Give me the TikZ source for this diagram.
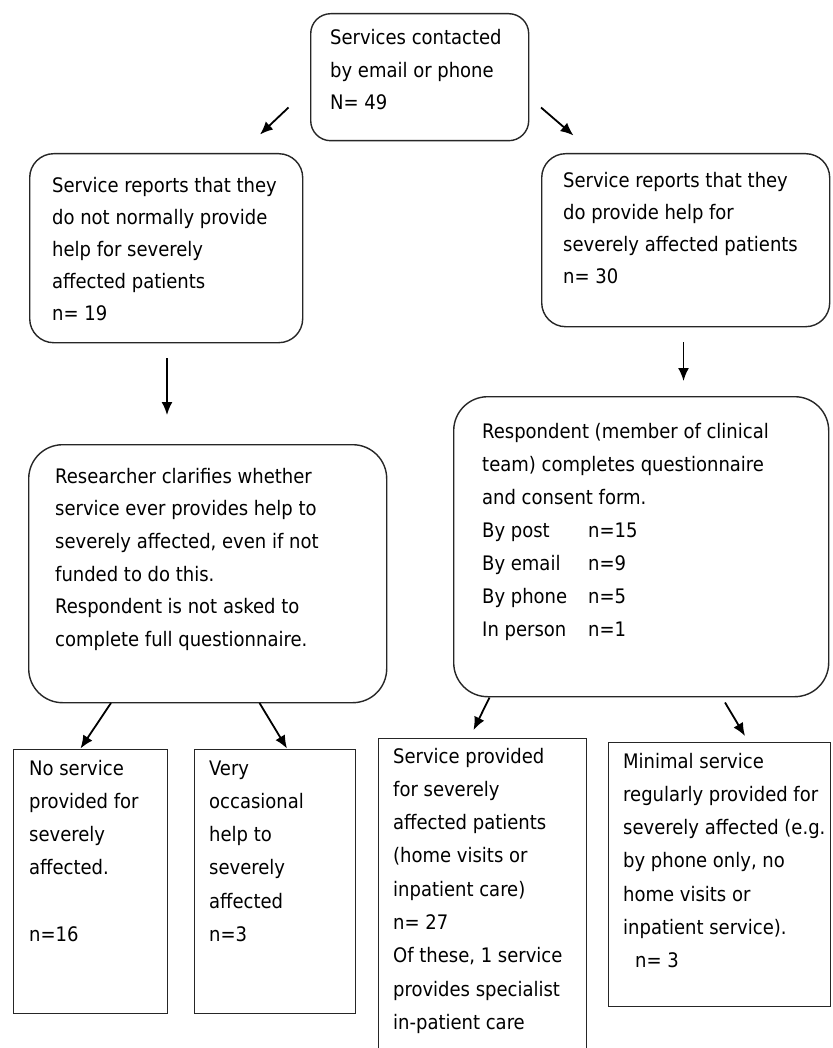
\documentclass[tikz,border=0pt]{standalone}
\usepackage{fontspec}
\setmainfont{DejaVu Sans Condensed}
\usetikzlibrary{arrows.meta}
\newcommand{\ml}[1]{\begin{tabular}[t]{@{}l@{}}#1\end{tabular}}
\newcommand{\col}[1]{\makebox[106pt][l]{#1}}
\begin{document}
\begin{tikzpicture}[x=1pt,y=-1pt,
  box/.style={draw=black!85, line width=1.4pt, inner sep=0pt, anchor=north west},
  rbox/.style={box, rounded corners=#1},
  txt/.style={anchor=base west, inner sep=0pt, font=\fontsize{20}{#1}\selectfont},
  txt/.default=33.3,
  arr/.style={line width=1.8pt, -{Latex[length=13pt,width=11pt]}}]
\useasboundingbox (0,0) rectangle (832,1048);
\clip (0,0) rectangle (832,1048);
\fill[white] (0,0) rectangle (832,1048);

% boxes
\node[rbox=20pt, minimum width=218pt, minimum height=127pt] (A) at (310,13) {};
\node[rbox=24pt, minimum width=273pt, minimum height=189pt] (B) at (29,153) {};
\node[rbox=24pt, minimum width=288pt, minimum height=173pt] (C) at (541,153) {};
\node[rbox=34pt, minimum width=358pt, minimum height=258pt] (D) at (28,444) {};
\node[rbox=34pt, minimum width=375pt, minimum height=300pt] (E) at (453,396) {};
\node[box, minimum width=154pt, minimum height=264pt] (F) at (13,749) {};
\node[box, minimum width=161pt, minimum height=264pt] (G) at (194,749) {};
\node[box, minimum width=208pt, minimum height=330pt] (H) at (378,738) {};
\node[box, minimum width=222pt, minimum height=264pt] (I) at (608,742) {};

% texts
\node[txt=32.5] (At) at (330,45) {\ml{Services contacted\\by email or phone\\N= 49}};
\node[txt=32] (Bt) at (52,193) {\ml{Service reports that they\\do not normally provide\\help for severely\\affected patients\\n= 19}};
\node[txt=32] (Ct) at (563,188) {\ml{Service reports that they\\do provide help for\\severely affected patients\\n= 30}};
\node[txt=32.7] (Dt) at (55,483) {\ml{Researcher clarifies whether\\service ever provides help to\\severely affected, even if not\\funded to do this.\\Respondent is not asked to\\complete full questionnaire.}};
\node[txt=33] (Et) at (482,438) {\ml{Respondent (member of clinical\\team) completes questionnaire\\and consent form.\\\col{By post}n=15\\\col{By email}n=9\\\col{By phone}n=5\\\col{In person}n=1}};
\node[txt] (Ft) at (29,775) {\ml{No service\\provided for\\severely\\affected.\\ \\n=16}};
\node[txt] (Gt) at (209,775) {\ml{Very\\occasional\\help to\\severely\\affected\\n=3}};
\node[txt] (Ht) at (393,763) {\ml{Service provided\\for severely\\affected patients\\(home visits or\\inpatient care)\\n= 27\\Of these, 1 service\\provides specialist\\in-patient care}};
\node[txt] (It) at (623,768) {\ml{Minimal service\\regularly provided for\\severely affected (e.g.\\by phone only, no\\home visits or\\inpatient service).\\\hspace*{12pt}n= 3}};

% arrow end points
\coordinate (a1s) at (288.5,107.5); \coordinate (a1e) at (260,134.5);
\coordinate (a2s) at (541,107.5);   \coordinate (a2e) at (573.5,135.5);
\coordinate (a3s) at (167,358);     \coordinate (a3e) at (167,415);
\coordinate (a4s) at (683.5,342);   \coordinate (a4e) at (683.5,381);
\coordinate (a5s) at (111,703);     \coordinate (a5e) at (80.5,748.5);
\coordinate (a6s) at (259.5,703);   \coordinate (a6e) at (287,748.5);
\coordinate (a7s) at (489.5,697.5); \coordinate (a7e) at (473.5,730);
\coordinate (a8s) at (725,702.5);   \coordinate (a8e) at (745,736);

\draw[arr] (a1s) -- (a1e);
\draw[arr] (a2s) -- (a2e);
\draw[arr] (a3s) -- (a3e);
\draw[arr] (a4s) -- (a4e);
\draw[arr] (a5s) -- (a5e);
\draw[arr] (a6s) -- (a6e);
\draw[arr] (a7s) -- (a7e);
\draw[arr] (a8s) -- (a8e);
\end{tikzpicture}
\end{document}
